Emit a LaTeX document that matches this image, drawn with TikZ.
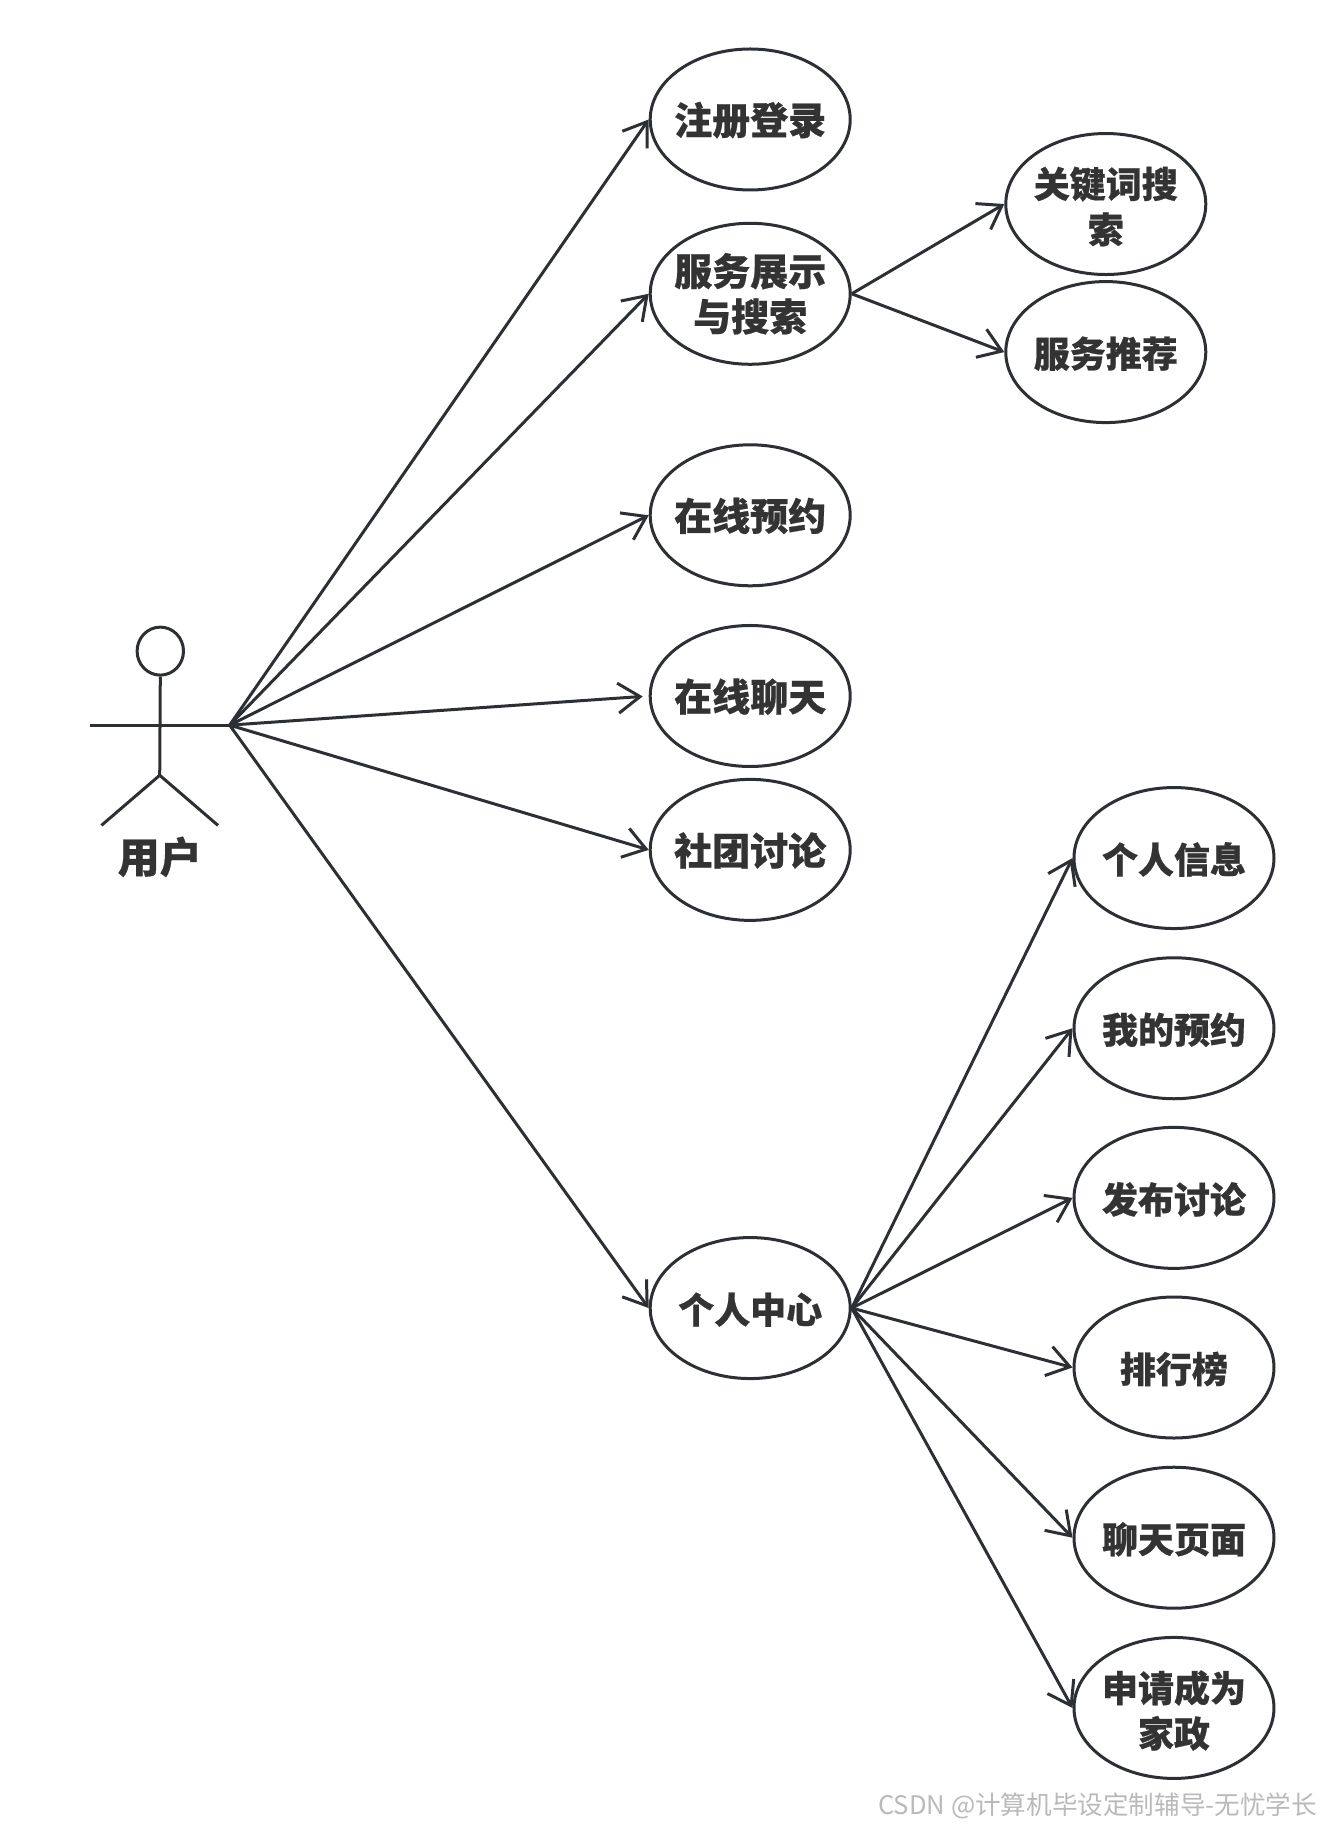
\documentclass[tikz,border=0pt]{standalone}
\usepackage{fontspec}
\setmainfont{Noto Sans CJK SC}[BoldFeatures={FakeBold=0.6}]
\usetikzlibrary{arrows.meta, shapes.geometric}
\definecolor{uml-line}{RGB}{44,48,52}
\definecolor{uml-text}{RGB}{51,51,51}
\tikzset{
  usecase/.style={draw=uml-line, line width=1.5pt, ellipse, minimum width=100pt,
    minimum height=70.5pt, inner xsep=-6pt, inner ysep=0pt, align=center, text=uml-text,
    execute at begin node={\rule{0pt}{17pt}},
    font=\fontsize{18}{22.7}\selectfont\bfseries},
  bigcase/.style={usecase, font=\fontsize{19}{22.7}\selectfont\bfseries},
  actorline/.style={draw=uml-line, line width=1.5pt},
  assoc/.style={draw=uml-line, line width=1.5pt, -{Straight Barb[length=11pt,width=15pt]}}
}

\begin{document}
\begin{tikzpicture}[x=0.5829pt, y=-0.5829pt]
  \useasboundingbox (0,0) rectangle (1135,1568);

  % Acteur
  \node[draw=uml-line, line width=1.5pt, ellipse, minimum width=23.2pt,
        minimum height=24pt, inner sep=0pt] (head) at (137.5,558.5) {};
  \coordinate (hip) at (137,665);
  \coordinate (armL) at (77,622);
  \coordinate (hub) at (197,622);
  \coordinate (footL) at (87,708);
  \coordinate (footR) at (187,708);
  \draw[actorline] (head.south) -- (hip);
  \draw[actorline] (armL) -- (hub);
  \draw[actorline] (footL) -- (hip) -- (footR);
  \node[text=uml-text, inner sep=0pt, font=\fontsize{21}{24}\selectfont\bfseries]
    (user) at (137,735) {用户};

  % Cas d'utilisation, colonne du milieu
  \foreach \name/\y/\gap/\lab in {
    login/102.5/0/{注册登录},
    service/252/0/{服务展示\\与搜索},
    booking/442/0/{在线预约},
    chat/597/3/{在线聊天},
    club/729/0/{社团讨论}}{
    \node[bigcase] (\name) at (643.5,\y) {\lab};
    \draw[assoc, shorten >=\gap pt] (hub) -- (\name.west);
  }
  \node[usecase] (center) at (643.5,1122) {个人中心};
  \draw[assoc] (hub) -- (center.west);

  % Recherche
  \foreach \name/\y/\lab in {
    keyword/175/{\rule{0pt}{18pt}关键词搜\\索},
    recommend/302/{服务推荐}}{
    \node[usecase] (\name) at (948.5,\y) {\lab};
    \draw[assoc] (service.east) -- (\name.west);
  }

  % Centre personnel
  \foreach \name/\y/\lab in {
    info/736/{个人信息},
    mybooking/882/{我的预约},
    post/1027.5/{发布讨论},
    rank/1173/{排行榜},
    chatpage/1319/{聊天页面},
    apply/1465/{\rule{0pt}{18.3pt}申请成为\\家政}}{
    \node[usecase] (\name) at (1007,\y) {\lab};
    \draw[assoc] (center.east) -- (\name.west);
  }

  % Filigrane
  \node[anchor=east, inner sep=0pt, text=gray!55, font=\fontsize{12.8}{14}\selectfont]
    (mark) at (1130,1549) {CSDN @计算机毕设定制辅导-无忧学长};
\end{tikzpicture}
\end{document}
